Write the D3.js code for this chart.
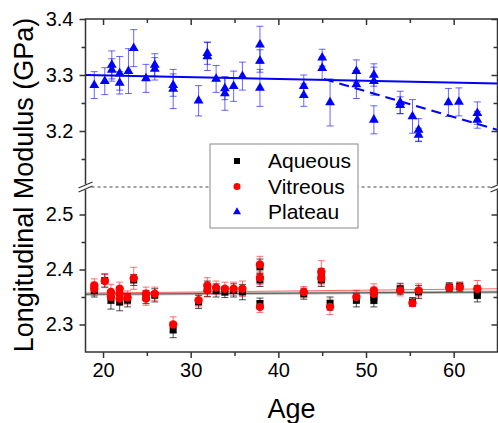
<!DOCTYPE html>
<html>
<head>
<meta charset="utf-8">
<script src="https://cdn.jsdelivr.net/npm/d3@7"></script>
<style>
  body { margin: 0; background: #fff; }
</style>
</head>
<body>
<div id="plot_area"></div>
<script>
// Data
const plateauAge = [19, 20.2, 21, 21, 21.9, 21.9, 22.9, 23.5, 24.9, 25.9, 25.9, 28, 28, 30.9, 31.9, 31.9, 32.9, 33.9, 33.9, 34.9, 35.9, 37.9, 37.9, 37.9, 42.9, 42.9, 45, 45, 45.9, 48.9, 48.9, 50.9, 50.9, 50.9, 53.9, 53.9, 55.3, 56, 56, 59.4, 60.6, 62.7, 62.7];
const plateauVal = [3.282, 3.289, 3.318, 3.309, 3.303, 3.286, 3.307, 3.348, 3.294, 3.318, 3.311, 3.282, 3.275, 3.254, 3.339, 3.333, 3.293, 3.276, 3.267, 3.280, 3.298, 3.354, 3.325, 3.277, 3.280, 3.264, 3.331, 3.312, 3.251, 3.307, 3.283, 3.300, 3.289, 3.220, 3.251, 3.246, 3.226, 3.202, 3.193, 3.251, 3.252, 3.232, 3.220];
const plateauErr = [0.024, 0.024, 0.025, 0.02, 0.03, 0.02, 0.04, 0.033, 0.025, 0.02, 0.02, 0.02, 0.035, 0.027, 0.02, 0.025, 0.024, 0.02, 0.03, 0.027, 0.025, 0.033, 0.02, 0.033, 0.02, 0.02, 0.015, 0.02, 0.042, 0.02, 0.025, 0.02, 0.025, 0.025, 0.02, 0.015, 0.03, 0.02, 0.012, 0.025, 0.025, 0.02, 0.015];

const aqueousAge = [19, 20.2, 20.9, 21.9, 22.8, 23.5, 24.9, 25.9, 28, 30.9, 31.9, 32.9, 33.9, 34.9, 35.9, 37.9, 37.9, 37.9, 42.9, 44.9, 44.9, 45.9, 48.9, 50.9, 50.9, 53.9, 55.3, 56, 59.5, 60.7, 62.7, 62.7];
const aqueousVal = [2.362, 2.380, 2.344, 2.341, 2.344, 2.381, 2.350, 2.353, 2.290, 2.341, 2.365, 2.362, 2.359, 2.362, 2.359, 2.405, 2.381, 2.338, 2.356, 2.390, 2.381, 2.338, 2.344, 2.350, 2.344, 2.365, 2.341, 2.359, 2.368, 2.369, 2.359, 2.353];
const aqueousErr = [0.012, 0.012, 0.016, 0.016, 0.012, 0.01, 0.012, 0.012, 0.014, 0.012, 0.014, 0.012, 0.01, 0.012, 0.014, 0.014, 0.012, 0.01, 0.01, 0.012, 0.012, 0.012, 0.012, 0.012, 0.012, 0.01, 0.008, 0.012, 0.008, 0.008, 0.012, 0.012];

const vitreousAge = [19, 19, 20.2, 20.9, 20.9, 21.9, 21.9, 21.9, 22.8, 23.5, 24.9, 24.9, 25.9, 28, 30.9, 31.9, 31.9, 32.9, 33.9, 34.9, 35.9, 37.9, 37.9, 37.9, 42.9, 44.9, 44.9, 45.9, 48.9, 50.9, 50.9, 53.9, 55.3, 56, 59.5, 60.7, 62.7];
const vitreousVal = [2.371, 2.365, 2.379, 2.359, 2.350, 2.365, 2.356, 2.347, 2.349, 2.384, 2.356, 2.347, 2.356, 2.300, 2.344, 2.371, 2.362, 2.367, 2.365, 2.365, 2.365, 2.409, 2.385, 2.332, 2.359, 2.396, 2.384, 2.332, 2.350, 2.362, 2.356, 2.362, 2.339, 2.362, 2.367, 2.368, 2.365];
const vitreousErr = [0.012, 0.012, 0.012, 0.014, 0.012, 0.012, 0.012, 0.012, 0.012, 0.02, 0.012, 0.012, 0.012, 0.014, 0.012, 0.014, 0.012, 0.012, 0.012, 0.012, 0.014, 0.015, 0.012, 0.01, 0.01, 0.02, 0.012, 0.014, 0.012, 0.012, 0.012, 0.01, 0.006, 0.012, 0.006, 0.008, 0.015];

// Linear fits (end points)
const plateauFit = [[18, 3.300], [65, 3.285]];
const plateauFitOld = [[45.2, 3.293], [65, 3.202]];
const aqueousFit = [[18, 2.355], [65, 2.359]];
const vitreousFit = [[18, 2.357], [65, 2.365]];

// Ticks
const xTicks = [20, 30, 40, 50, 60];
const xMinor = [25, 35, 45, 55];
const yTopTicks = [3.2, 3.3, 3.4];
const yTopMinor = [3.15, 3.25, 3.35];
const yBotTicks = [2.3, 2.4, 2.5];
const yBotMinor = [2.35, 2.45];

const legendNames = ['Aqueous', 'Vitreous', 'Plateau'];

// Layout
const w = 498;
const h = 423;
const pLeft = 85.5, pRight = 497.5, pTop = 19, pBottom = 352, breakY = 187;
const font = "'Liberation Sans', Arial, sans-serif";

const xScale = d3.scaleLinear().domain([18, 65]).range([pLeft, pRight]);
const yTop = d3.scaleLinear().domain([3.1, 3.4]).range([breakY, pTop]);
const yBot = d3.scaleLinear().domain([2.25, 2.55]).range([pBottom, breakY]);

const svg = d3.select('#plot_area')
  .append('svg')
  .attr('width', w)
  .attr('height', h)
  .style('font-family', font);

svg.append('defs').append('clipPath').attr('id', 'clip')
  .append('rect').attr('x', pLeft).attr('y', pTop)
  .attr('width', pRight - pLeft).attr('height', pBottom - pTop);

const plot = svg.append('g').attr('clip-path', 'url(#clip)');

// break line
plot.append('line')
  .attr('x1', pLeft).attr('x2', pRight)
  .attr('y1', breakY).attr('y2', breakY)
  .attr('stroke', '#444').attr('stroke-width', 1)
  .attr('stroke-dasharray', '3,3');

// fit lines
const lineTop = d3.line().x(d => xScale(d[0])).y(d => yTop(d[1]));
const lineBot = d3.line().x(d => xScale(d[0])).y(d => yBot(d[1]));

plot.append('path').datum(aqueousFit).attr('d', lineBot)
  .attr('stroke', '#bbb').attr('stroke-width', 3).attr('fill', 'none');
plot.append('path').datum(aqueousFit).attr('d', lineBot)
  .attr('stroke', '#555').attr('stroke-width', 1).attr('fill', 'none');
plot.append('path').datum(vitreousFit).attr('d', lineBot)
  .attr('stroke', '#ff6666').attr('stroke-width', 1).attr('fill', 'none');

plot.append('path').datum(plateauFit).attr('d', lineTop)
  .attr('stroke', '#0000ff').attr('stroke-width', 2).attr('fill', 'none');
plot.append('path').datum(plateauFitOld).attr('d', lineTop)
  .attr('stroke', '#0000ff').attr('stroke-width', 2).attr('fill', 'none')
  .attr('stroke-dasharray', '10,6');

// error bars
function errorBars(ages, vals, errs, yScale, color, opacity) {
  const g = plot.append('g')
    .attr('stroke', color).attr('stroke-opacity', opacity)
    .attr('stroke-width', 1).attr('fill', 'none');
  const data = ages.map((a, i) => [a, vals[i], errs[i]]);
  g.selectAll('path').data(data).enter().append('path')
    .attr('d', d => {
      const x = xScale(d[0]);
      const y1 = yScale(d[1] + d[2]);
      const y2 = yScale(d[1] - d[2]);
      return 'M' + x + ',' + y1 + 'V' + y2 +
        'M' + (x - 3.5) + ',' + y1 + 'H' + (x + 3.5) +
        'M' + (x - 3.5) + ',' + y2 + 'H' + (x + 3.5);
    });
}

errorBars(aqueousAge, aqueousVal, aqueousErr, yBot, '#000', 0.7);
errorBars(vitreousAge, vitreousVal, vitreousErr, yBot, '#ff0000', 0.55);
errorBars(plateauAge, plateauVal, plateauErr, yTop, '#0000ff', 0.6);

// markers
plot.selectAll('.aq').data(aqueousAge.map((a, i) => [a, aqueousVal[i]]))
  .enter().append('path').attr('class', 'aq')
  .attr('d', d3.symbol(d3.symbolSquare, 49))
  .attr('transform', d => 'translate(' + xScale(d[0]) + ',' + yBot(d[1]) + ')')
  .attr('fill', '#000');

plot.selectAll('.vi').data(vitreousAge.map((a, i) => [a, vitreousVal[i]]))
  .enter().append('circle').attr('class', 'vi')
  .attr('cx', d => xScale(d[0]))
  .attr('cy', d => yBot(d[1]))
  .attr('r', 4.2)
  .attr('fill', '#ff0000');

plot.selectAll('.pl').data(plateauAge.map((a, i) => [a, plateauVal[i]]))
  .enter().append('path').attr('class', 'pl')
  .attr('d', d3.symbol(d3.symbolTriangle, 42))
  .attr('transform', d => 'translate(' + xScale(d[0]) + ',' + yTop(d[1]) + ')')
  .attr('fill', '#0000ff');

// axes
function styleAxis(g) {
  g.select('.domain').remove();
  g.selectAll('line').attr('stroke', '#333').attr('stroke-width', 1.5);
  g.selectAll('text').style('font-size', '20px').attr('fill', '#000')
    .style('font-family', font);
}

// bottom
svg.append('g').attr('transform', 'translate(0,' + pBottom + ')')
  .call(d3.axisBottom(xScale).tickValues(xTicks).tickSize(6).tickPadding(5).tickFormat(d3.format('d')))
  .call(styleAxis);
svg.append('g').attr('transform', 'translate(0,' + pBottom + ')')
  .call(d3.axisBottom(xScale).tickValues(xMinor).tickSize(4).tickFormat(''))
  .call(styleAxis);
// top (inward)
svg.append('g').attr('transform', 'translate(0,' + pTop + ')')
  .call(d3.axisBottom(xScale).tickValues(xTicks).tickSize(6).tickFormat(''))
  .call(styleAxis);
svg.append('g').attr('transform', 'translate(0,' + pTop + ')')
  .call(d3.axisBottom(xScale).tickValues(xMinor).tickSize(4).tickFormat(''))
  .call(styleAxis);

// left and right
[[yTop, yTopTicks, yTopMinor], [yBot, yBotTicks, yBotMinor]].forEach(function (s) {
  svg.append('g').attr('transform', 'translate(' + pLeft + ',0)')
    .call(d3.axisLeft(s[0]).tickValues(s[1]).tickSize(6).tickPadding(6).tickFormat(d3.format('.1f')))
    .call(styleAxis);
  svg.append('g').attr('transform', 'translate(' + pLeft + ',0)')
    .call(d3.axisLeft(s[0]).tickValues(s[2]).tickSize(4).tickFormat(''))
    .call(styleAxis);
  // right (inward)
  svg.append('g').attr('transform', 'translate(' + pRight + ',0)')
    .call(d3.axisLeft(s[0]).tickValues(s[1]).tickSize(6).tickFormat(''))
    .call(styleAxis);
  svg.append('g').attr('transform', 'translate(' + pRight + ',0)')
    .call(d3.axisLeft(s[0]).tickValues(s[2]).tickSize(4).tickFormat(''))
    .call(styleAxis);
});

// frame
svg.append('rect')
  .attr('x', pLeft).attr('y', pTop)
  .attr('width', pRight - pLeft).attr('height', pBottom - pTop)
  .attr('fill', 'none').attr('stroke', '#333').attr('stroke-width', 1.5);

// axis break marks
[pLeft, pRight].forEach(function (x) {
  svg.append('rect').attr('x', x - 3).attr('y', breakY - 2.5)
    .attr('width', 6).attr('height', 5).attr('fill', '#fff');
  [-2, 2].forEach(function (o) {
    svg.append('line')
      .attr('x1', x - 7).attr('y1', breakY + o + 3)
      .attr('x2', x + 7).attr('y2', breakY + o - 3)
      .attr('stroke', '#333').attr('stroke-width', 1.2);
  });
});

// legend
const legend = svg.append('g');
legend.append('rect')
  .attr('x', 210).attr('y', 144).attr('width', 148).attr('height', 84)
  .attr('fill', '#fff').attr('stroke', '#888').attr('stroke-width', 1);
const legendY = d3.scalePoint().domain(legendNames).range([161, 212]);
legend.append('path')
  .attr('d', d3.symbol(d3.symbolSquare, 36))
  .attr('transform', 'translate(237,' + legendY('Aqueous') + ')')
  .attr('fill', '#000');
legend.append('circle')
  .attr('cx', 237).attr('cy', legendY('Vitreous')).attr('r', 3.5)
  .attr('fill', '#ff0000');
legend.append('path')
  .attr('d', d3.symbol(d3.symbolTriangle, 28))
  .attr('transform', 'translate(237,' + legendY('Plateau') + ')')
  .attr('fill', '#0000ff');
legend.selectAll('.lt').data(legendNames).enter().append('text')
  .attr('x', 268)
  .attr('y', d => legendY(d))
  .attr('dy', '0.35em')
  .style('font-size', '21px')
  .text(d => d);

// axis labels
svg.append('text')
  .attr('x', (pLeft + pRight) / 2)
  .attr('y', 418)
  .attr('text-anchor', 'middle')
  .style('font-size', '27px')
  .text('Age');

svg.append('text')
  .attr('text-anchor', 'middle')
  .attr('transform', 'translate(33,' + 185 + ')rotate(-90)')
  .style('font-size', '27px')
  .text('Longitudinal Modulus (GPa)');
</script>
</body>
</html>
